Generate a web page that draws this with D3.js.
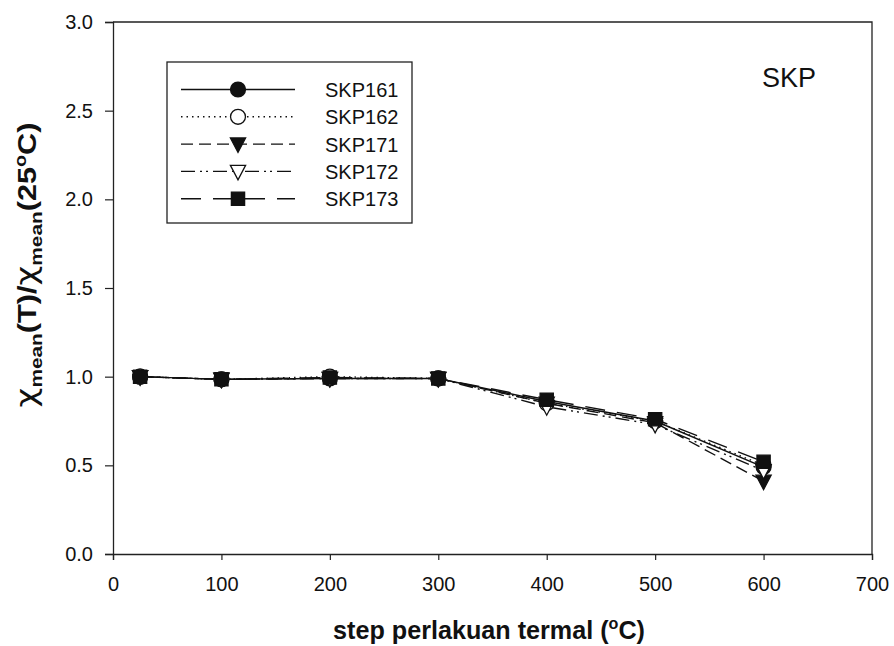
<!DOCTYPE html>
<html>
<head>
<meta charset="utf-8">
<script src="https://cdn.jsdelivr.net/npm/d3@7"></script>
<style>
  body { margin: 0; background: #fff; }
  text { font-family: Arial, 'Liberation Sans', sans-serif; fill: #111; }
</style>
</head>
<body>
<div id="wrapper"></div>
<script>
const temps = [25, 100, 200, 300, 400, 500, 600]
const seriesNames = ['SKP161', 'SKP162', 'SKP171', 'SKP172', 'SKP173']
const skp161 = [1.0, 0.985, 0.99, 0.99, 0.86, 0.75, 0.49]
const skp162 = [1.0, 0.985, 1.0, 0.99, 0.85, 0.75, 0.5]
const skp171 = [1.0, 0.985, 0.99, 0.99, 0.85, 0.74, 0.41]
const skp172 = [1.0, 0.985, 0.99, 0.99, 0.83, 0.73, 0.47]
const skp173 = [1.0, 0.985, 0.995, 0.99, 0.87, 0.76, 0.52]
const xTicks = [0, 100, 200, 300, 400, 500, 600, 700]
const yTicks = [0, 0.5, 1.0, 1.5, 2.0, 2.5, 3.0]

const allValues = [skp161, skp162, skp171, skp172, skp173]
const styles = [
  { dash: null, symbol: d3.symbolCircle, fill: '#111' },
  { dash: '1.5,4', symbol: d3.symbolCircle, fill: '#fff' },
  { dash: '12,6', symbol: 'down', fill: '#111' },
  { dash: '14,5,2,4,2,5', symbol: 'down', fill: '#fff' },
  { dash: '20,12', symbol: d3.symbolSquare, fill: '#111' },
]

const width = 894
const height = 646
const margin = { left: 113, right: 22, top: 22, bottom: 92 }
const boundedWidth = width - margin.left - margin.right
const boundedHeight = height - margin.top - margin.bottom

const svg = d3.select('#wrapper').append('svg')
  .attr('width', width).attr('height', height)

const bounds = svg.append('g')
  .attr('transform', `translate(${margin.left},${margin.top})`)

const xScale = d3.scaleLinear().domain([0, 700]).range([0, boundedWidth])
const yScale = d3.scaleLinear().domain([0, 3]).range([boundedHeight, 0])

// frame top + right
bounds.append('path')
  .attr('d', `M0,0H${boundedWidth}V${boundedHeight}`)
  .attr('fill', 'none').attr('stroke', '#222').attr('stroke-width', 1.3)

const xAxis = bounds.append('g')
  .attr('transform', `translate(0,${boundedHeight})`)
  .call(d3.axisBottom(xScale).tickValues(xTicks).tickSize(6).tickPadding(17).tickFormat(d3.format('d')))
xAxis.selectAll('text').style('font-size', '20px')

const yAxis = bounds.append('g')
  .call(d3.axisLeft(yScale).tickValues(yTicks).tickSize(8).tickPadding(12).tickFormat(d3.format('.1f')))
yAxis.selectAll('text').style('font-size', '20px')

svg.selectAll('.domain').attr('stroke', '#222').attr('stroke-width', 1.3)
svg.selectAll('.tick line').attr('stroke', '#222').attr('stroke-width', 1.2)
svg.selectAll('.tick text').attr('fill', '#111')

function markerPath(sym, size) {
  if (sym === 'down') {
    const s = Math.sqrt(size) * 1.15
    return `M${-s / 2},${-s * 0.4}L${s / 2},${-s * 0.4}L0,${s * 0.55}Z`
  }
  return d3.symbol().type(sym).size(size)()
}

const line = d3.line()
  .x((d, i) => xScale(temps[i]))
  .y((d) => yScale(d))

allValues.forEach((vals, k) => {
  const st = styles[k]
  bounds.append('path')
    .attr('d', line(vals))
    .attr('fill', 'none')
    .attr('stroke', '#111')
    .attr('stroke-width', 1.4)
    .attr('stroke-dasharray', st.dash)
})

allValues.forEach((vals, k) => {
  const st = styles[k]
  bounds.append('g').selectAll('path')
    .data(vals)
    .enter()
    .append('path')
    .attr('d', markerPath(st.symbol, 175))
    .attr('transform', (d, i) => `translate(${xScale(temps[i])},${yScale(d)})`)
    .attr('fill', st.fill)
    .attr('stroke', '#111')
    .attr('stroke-width', 1.3)
})

// legend
const legend = svg.append('g').attr('transform', 'translate(167,62)')
legend.append('rect')
  .attr('width', 245).attr('height', 161)
  .attr('fill', '#fff').attr('stroke', '#222').attr('stroke-width', 1.3)

seriesNames.forEach((name, k) => {
  const st = styles[k]
  const y = 27.5 + k * 27.3
  legend.append('line')
    .attr('x1', 14).attr('x2', 128).attr('y1', y).attr('y2', y)
    .attr('stroke', '#111').attr('stroke-width', 1.4)
    .attr('stroke-dasharray', st.dash)
  legend.append('path')
    .attr('d', markerPath(st.symbol, 175))
    .attr('transform', `translate(71,${y})`)
    .attr('fill', st.fill).attr('stroke', '#111').attr('stroke-width', 1.3)
  legend.append('text')
    .attr('x', 158).attr('y', y + 7.5)
    .style('font-size', '20px')
    .text(name)
})

svg.append('text')
  .attr('x', 789).attr('y', 87)
  .attr('text-anchor', 'middle')
  .style('font-size', '27px')
  .text('SKP')

// axis titles (narrow bold, squeezed to the measured width)
const xTitle = svg.append('text')
  .attr('text-anchor', 'middle')
  .style('font-size', '25px').style('font-weight', 'bold')
xTitle.append('tspan').text('step perlakuan termal (')
xTitle.append('tspan').attr('dy', -10).style('font-size', '16px').text('o')
xTitle.append('tspan').attr('dy', 10).text('C)')
const xLen = xTitle.node().getComputedTextLength()
xTitle.attr('transform', `translate(489,639) scale(${312 / xLen},1)`)

const yTitle = svg.append('text')
  .attr('text-anchor', 'middle')
  .style('font-size', '25px').style('font-weight', 'bold')
yTitle.append('tspan').style('font-family', 'DejaVu Sans').style('font-weight', 'normal').style('font-size', '28px').text('χ')
yTitle.append('tspan').attr('dy', 6).style('font-size', '17px').text('mean')
yTitle.append('tspan').attr('dy', -6).text('(T)/')
yTitle.append('tspan').style('font-family', 'DejaVu Sans').style('font-weight', 'normal').style('font-size', '28px').text('χ')
yTitle.append('tspan').attr('dy', 6).style('font-size', '17px').text('mean')
yTitle.append('tspan').attr('dy', -6).text('(25')
yTitle.append('tspan').attr('dy', -10).style('font-size', '16px').text('o')
yTitle.append('tspan').attr('dy', 10).text('C)')
const yLen = yTitle.node().getComputedTextLength()
yTitle.attr('transform', `translate(36,265) rotate(-90) scale(${285 / yLen},1)`)
</script>
</body>
</html>
